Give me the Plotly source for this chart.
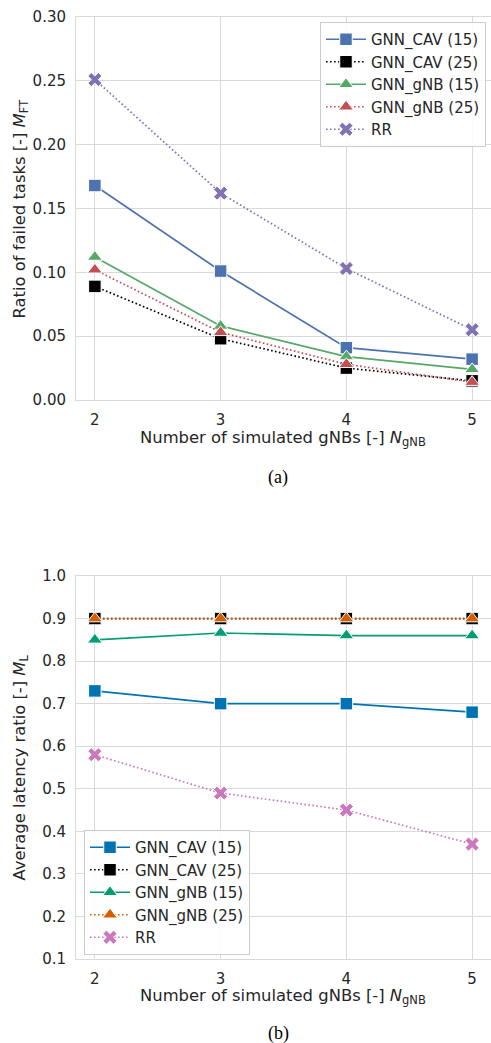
import plotly.graph_objects as go

# ---- data ----
n_gnb = [2, 3, 4, 5]
series_names = ["GNN_CAV (15)", "GNN_CAV (25)", "GNN_gNB (15)", "GNN_gNB (25)", "RR"]

mft_cav15 = [0.168, 0.101, 0.041, 0.032]
mft_cav25 = [0.089, 0.048, 0.025, 0.015]
mft_gnb15 = [0.112, 0.058, 0.034, 0.024]
mft_gnb25 = [0.102, 0.053, 0.028, 0.014]
mft_rr = [0.251, 0.162, 0.103, 0.055]

ml_cav15 = [0.73, 0.70, 0.70, 0.68]
ml_cav25 = [0.90, 0.90, 0.90, 0.90]
ml_gnb15 = [0.85, 0.866, 0.86, 0.86]
ml_gnb25 = [0.90, 0.90, 0.90, 0.90]
ml_rr = [0.58, 0.49, 0.45, 0.37]

top_ticks = [0.00, 0.05, 0.10, 0.15, 0.20, 0.25, 0.30]
bot_ticks = [0.1, 0.2, 0.3, 0.4, 0.5, 0.6, 0.7, 0.8, 0.9, 1.0]

# ---- styles ----
colors_top = ["#4C72B0", "#000000", "#55A868", "#C44E52", "#8172B3"]
colors_bot = ["#0173B2", "#000000", "#029E73", "#D55E00", "#CC78BC"]
symbols = ["square", "square", "triangle-up", "triangle-up", "x"]
DOT = "1.6px,2.4px"
dashes = ["solid", DOT, "solid", DOT, DOT]
sizes = [12.5, 12.5, 13, 13, 12.5]

TXT = "#262626"
GRID = "#d9d9d9"
FONT = "DejaVu Sans"
TICK_SIZE = 15
LABEL_SIZE = 16.4

fig = go.Figure()

top_data = [mft_cav15, mft_cav25, mft_gnb15, mft_gnb25, mft_rr]
bot_data = [ml_cav15, ml_cav25, ml_gnb15, ml_gnb25, ml_rr]

for i, (name, ys) in enumerate(zip(series_names, top_data)):
    fig.add_trace(go.Scatter(
        x=n_gnb, y=ys, name=name, mode="lines+markers",
        line=dict(color=colors_top[i], width=1.7, dash=dashes[i]),
        marker=dict(symbol=symbols[i], size=sizes[i], color=colors_top[i],
                    line=dict(color="white", width=1)),
        xaxis="x", yaxis="y", legend="legend", legendgroup=f"t{i}",
    ))

for i, (name, ys) in enumerate(zip(series_names, bot_data)):
    fig.add_trace(go.Scatter(
        x=n_gnb, y=ys, name=name, mode="lines+markers",
        line=dict(color=colors_bot[i], width=1.7, dash=dashes[i]),
        marker=dict(symbol=symbols[i], size=sizes[i], color=colors_bot[i],
                    line=dict(color="white", width=1)),
        xaxis="x2", yaxis="y2", legend="legend2", legendgroup=f"b{i}",
    ))

W, H = 491, 1043
def ydom(top_px, bot_px):
    return [1 - bot_px / H, 1 - top_px / H]

xdom = [76 / W, 1.0]

axis_common = dict(
    showgrid=True, gridcolor=GRID, gridwidth=1,
    showline=True, linecolor=GRID, linewidth=1, mirror=True,
    zeroline=False,
    ticks="outside", ticklen=6, tickcolor="rgba(0,0,0,0)",
    tickfont=dict(family=FONT, size=TICK_SIZE, color=TXT),
    automargin=False,
)

legend_common = dict(
    xanchor="left", yanchor="top",
    bgcolor="rgba(255,255,255,0.85)", bordercolor="#cccccc", borderwidth=1,
    font=dict(family=FONT, size=15, color=TXT), tracegroupgap=0,
    itemwidth=40,
)

fig.update_layout(
    width=W, height=H,
    margin=dict(l=0, r=0, t=0, b=0),
    paper_bgcolor="white", plot_bgcolor="white",
    font=dict(family=FONT, size=15, color=TXT),
    showlegend=True,
    xaxis=dict(domain=xdom, anchor="y", range=[1.85, 5.15],
               tickvals=n_gnb, ticktext=[str(v) for v in n_gnb], **axis_common),
    yaxis=dict(domain=ydom(17, 400), anchor="x", range=[0, 0.30],
               tickvals=top_ticks, ticktext=[f"{v:.2f}" for v in top_ticks], **axis_common),
    xaxis2=dict(domain=xdom, anchor="y2", range=[1.85, 5.15],
                tickvals=n_gnb, ticktext=[str(v) for v in n_gnb], **axis_common),
    yaxis2=dict(domain=ydom(576, 959), anchor="x2", range=[0.1, 1.0],
                tickvals=bot_ticks, ticktext=[f"{v:.1f}" for v in bot_ticks], **axis_common),
    legend=dict(x=320 / W, y=1 - 22 / H, **legend_common),
    legend2=dict(x=84 / W, y=1 - 830 / H, **legend_common),
)

ann = []
# y-axis titles
ann.append(dict(text="Ratio of failed tasks [-] <i>M</i><sub>FT</sub>",
                x=20 / W, y=1 - 208.5 / H, xref="paper", yref="paper",
                textangle=-90, showarrow=False, xanchor="center", yanchor="middle",
                font=dict(family=FONT, size=LABEL_SIZE, color=TXT)))
ann.append(dict(text="Average latency ratio [-] <i>M</i><sub>L</sub>",
                x=20 / W, y=1 - 767.5 / H, xref="paper", yref="paper",
                textangle=-90, showarrow=False, xanchor="center", yanchor="middle",
                font=dict(family=FONT, size=LABEL_SIZE, color=TXT)))
# x-axis titles
for yc in (438, 996):
    ann.append(dict(text="Number of simulated gNBs [-] <i>N</i><sub>gNB</sub>",
                    x=283 / W, y=1 - yc / H, xref="paper", yref="paper",
                    showarrow=False, xanchor="center", yanchor="middle",
                    font=dict(family=FONT, size=LABEL_SIZE, color=TXT)))
# captions
for txt, yc in (("(a)", 477), ("(b)", 1033)):
    ann.append(dict(text=txt, x=278 / W, y=1 - yc / H, xref="paper", yref="paper",
                    showarrow=False, xanchor="center", yanchor="middle",
                    font=dict(family="Liberation Serif", size=18, color="#000000")))
fig.update_layout(annotations=ann)

fig.write_html(
    "out.html",
    config={"displayModeBar": False},
    post_script="document.body.style.margin='0';document.body.style.overflow='hidden';",
)
